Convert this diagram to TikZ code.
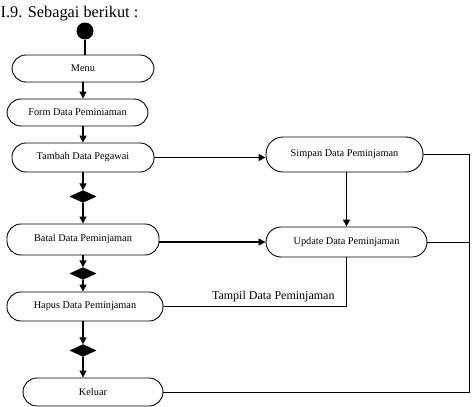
\documentclass[tikz,border=0pt]{standalone}
\usepackage{fontspec}
\setmainfont{Liberation Serif}
\usetikzlibrary{arrows.meta,shapes.geometric}
\tikzset{
	act/.style={draw, line width=0.9pt, rectangle, rounded corners=14pt, minimum height=28pt, inner sep=0pt, font=\fontsize{10.3}{12}\selectfont},
	dec/.style={draw, fill=black, diamond, minimum width=26pt, minimum height=12pt, inner sep=0pt},
	arr/.style={line width=1.5pt, -{Triangle[length=7pt,width=7pt]}},
	lin/.style={line width=1pt}
}

\begin{document}
\begin{tikzpicture}[x=1pt, y=-1pt]
			%%%%% START %%%%%
			
			\useasboundingbox (0,0) rectangle (472,407);
			
			\node[anchor=west, inner sep=0pt, font=\fontsize{16.3}{19}\selectfont] (judul) at (0.5, 14) {I.9. Sebagai berikut :};
			
			\node[circle, fill=black, minimum size=17pt, inner sep=0pt] (mulai) at (85, 31) {};
			
			\node[act, minimum width=142pt, minimum height=27pt] (menu) at (83, 68.5) {Menu};
			\node[act, minimum width=141pt, minimum height=27pt] (form) at (77.5, 112.5) {Form Data Peminiaman};
			\node[act, minimum width=142pt, minimum height=29pt] (tambah) at (83, 157.5) {Tambah Data Pegawai};
			\node[dec] (d1) at (83, 196.5) {};
			\node[act, minimum width=152pt, minimum height=31pt] (batal) at (83, 239.5) {Batal Data Peminjaman};
			\node[dec] (d2) at (83, 273.5) {};
			\node[act, minimum width=156pt, minimum height=29pt] (hapus) at (85, 306.5) {Hapus Data Peminjaman};
			\node[dec] (d3) at (83, 350.5) {};
			\node[act, minimum width=140pt, minimum height=28pt] (keluar) at (93, 392) {Keluar};
			
			\node[act, minimum width=157pt, minimum height=35pt, rounded corners=17pt] (simpan) at (344.5, 154.5) {Simpan Data Peminjaman};
			\node[act, minimum width=161pt, minimum height=30pt, rounded corners=15pt] (update) at (346.5, 242) {Update Data Peminjaman};
			
			\coordinate (kanan) at (469, 0);
			
			% alur utama
			\draw[line width=1.5pt] (mulai) -- (mulai |- menu.north);
			\draw[arr] (menu.south) -- (menu.south |- form.north);
			\draw[arr] (form.south -| menu) -- (menu |- tambah.north);
			\draw[arr] (tambah) -- (d1);
			\draw[arr] (d1) -- (batal);
			\draw[arr] (batal) -- (d2);
			\draw[arr] (d2) -- (d2 |- hapus.north);
			\draw[arr] (d2 |- hapus.south) -- (d3);
			\draw[arr] (d3) -- (d3 |- keluar.north);
			
			% ke kanan
			\draw[arr] (tambah.east) -- (tambah.east -| simpan.west);
			\draw[arr] (update -| batal.east) -- (update.west);
			\draw[arr] (simpan.south -| update) -- (update.north);
			\draw[lin] (update.south) |- node[pos=0.7, above=1pt, font=\fontsize{12}{14}\selectfont] (tampil) {Tampil Data Peminjaman} (hapus.east);
			
			\draw[lin] (simpan.east) -- (simpan.east -| kanan) -- (kanan |- keluar.east) -- (keluar.east);
			\draw[lin] (update.east) -- (update.east -| kanan);
			
			%%%%% END %%%%%
		\end{tikzpicture}
\end{document}
